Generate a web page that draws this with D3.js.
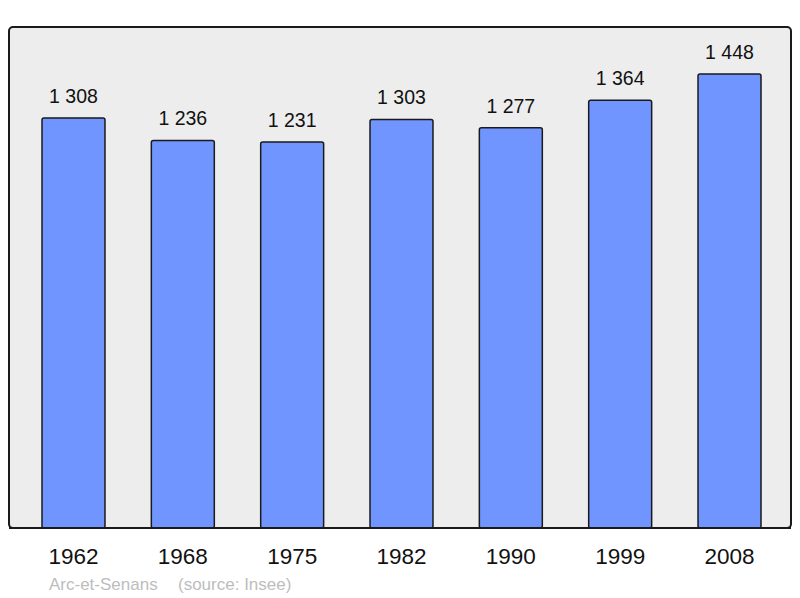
<!DOCTYPE html>
<html><head><meta charset="utf-8">
<script src="https://cdn.jsdelivr.net/npm/d3@7"></script>
<style>body{margin:0;background:#fff}svg{display:block}</style>
</head><body>
<script>
const years = ["1962","1968","1975","1982","1990","1999","2008"];
const population = [1308,1236,1231,1303,1277,1364,1448];
const labels = ["1 308","1 236","1 231","1 303","1 277","1 364","1 448"];
const commune = "Arc-et-Senans";
const source = "(source: Insee)";

const W=800,H=598;
const frame={x:9,y:27,w:782,h:501};
const svg=d3.select("body").append("svg").attr("width",W).attr("height",H);
svg.append("rect").attr("x",frame.x).attr("y",frame.y).attr("width",frame.w).attr("height",frame.h)
  .attr("rx",4).attr("fill","#ededed").attr("stroke","#1a1a1a").attr("stroke-width",2);

const x=d3.scaleBand().domain(years).range([42,761]).paddingInner(0.424).paddingOuter(0);
const y=d3.scaleLinear().domain([0,1598]).range([frame.y+frame.h,frame.y]);

const g=svg.append("g");
g.selectAll("rect.bar").data(population).join("rect").attr("class","bar")
  .attr("x",(d,i)=>x(years[i])).attr("width",x.bandwidth())
  .attr("y",d=>y(d)).attr("height",d=>y(0)-y(d))
  .attr("rx",2).attr("fill","#7095ff").attr("stroke","#1a1a1a").attr("stroke-width",1.5);
svg.append("line").attr("x1",frame.x).attr("x2",frame.x+frame.w).attr("y1",frame.y+frame.h).attr("y2",frame.y+frame.h)
  .attr("stroke","#1a1a1a").attr("stroke-width",2);

g.selectAll("text.val").data(population).join("text").attr("class","val")
  .attr("x",(d,i)=>x(years[i])+x.bandwidth()/2).attr("y",d=>y(d)-15)
  .attr("text-anchor","middle").attr("font-family","Liberation Sans, Arial, sans-serif")
  .attr("font-size",19.5).attr("fill","#111").text((d,i)=>labels[i]);

const xAxis=d3.axisBottom(x).tickSize(0).tickPadding(0);
const ax=svg.append("g").attr("transform",`translate(0,${frame.y+frame.h})`).call(xAxis);
ax.select(".domain").remove();
ax.selectAll("text").attr("dy",0).attr("y",36).attr("font-family","Liberation Sans, Arial, sans-serif")
  .attr("font-size",22.5).attr("fill","#111");

const foot=svg.append("g").attr("font-family","Liberation Sans, Arial, sans-serif")
  .attr("font-size",17).attr("fill","#bdbdbd");
foot.append("text").attr("x",49).attr("y",590).text(commune);
foot.append("text").attr("x",178).attr("y",590).text(source);
</script>
</body></html>
